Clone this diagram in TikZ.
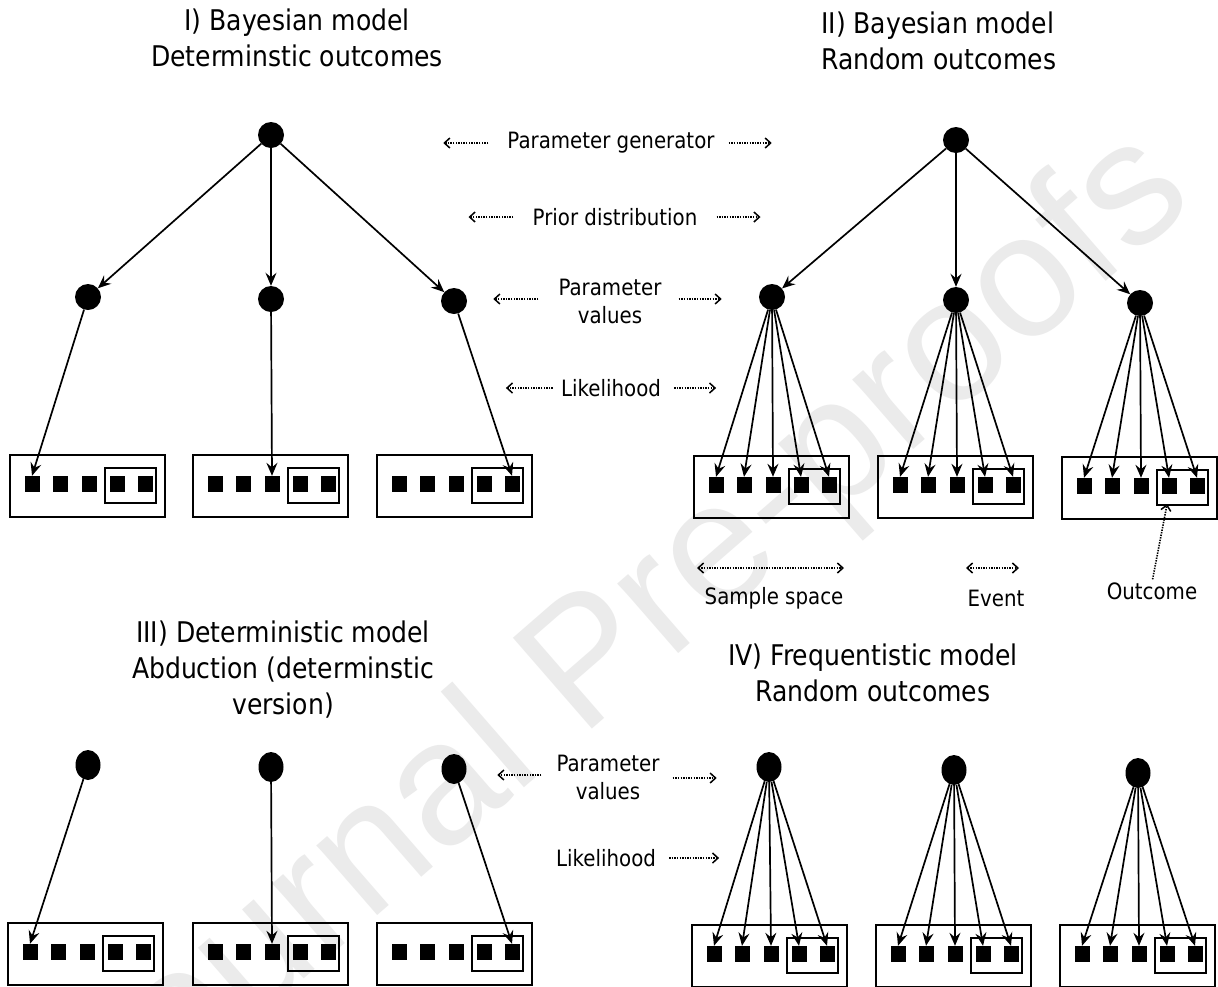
\documentclass[tikz,border=0pt]{standalone}
\usepackage{fontspec}
\newfontfamily\tah[FakeStretch=0.88]{DejaVu Sans}
\newfontfamily\wmfont{Liberation Sans}
\usetikzlibrary{arrows.meta,shapes.geometric,calc}
\newcommand\samplebox[3]{%
  \node[outerbox] (#1) at (#2+77.5,#3+31) {};
  \node[innerbox] (#1e) at (#2+120.5,#3+30.5) {};
  \foreach \k/\dx in {1/22,2/50,3/79,4/107,5/135}{\node[sq] (#1s\k) at (#2+\dx,#3+29) {};}
}
\begin{document}
\begin{tikzpicture}[x=1pt,y=-1pt,
  pn/.style={circle,fill=black,inner sep=0pt,minimum size=26pt},
  pe/.style={ellipse,fill=black,inner sep=0pt,minimum width=25pt,minimum height=30pt},
  outerbox/.style={draw,line width=2pt,minimum width=155pt,minimum height=62pt,inner sep=0pt},
  innerbox/.style={draw,line width=1.8pt,minimum width=51pt,minimum height=35pt,inner sep=0pt},
  sq/.style={fill=black,minimum width=15pt,minimum height=16pt,inner sep=0pt},
  arr/.style={line width=1.7pt,-{Stealth[length=13pt,width=11pt,inset=4.5pt]}},
  dotarr/.style={line width=1.6pt,dash pattern=on 1.4pt off 1.2pt,-{Straight Barb[length=5.5pt,width=10pt,line width=1.5pt]}},
  dotboth/.style={line width=1.6pt,dash pattern=on 1.4pt off 1.2pt,{Straight Barb[length=5.5pt,width=10pt,line width=1.5pt]}-{Straight Barb[length=5.5pt,width=10pt,line width=1.5pt]}},
  lab/.style={font=\tah\fontsize{22.5}{28}\selectfont,align=center,inner sep=0pt},
  ttl/.style={font=\tah\fontsize{28.5}{36}\selectfont,align=center,inner sep=0pt},
  wm/.style={font=\wmfont\fontsize{175}{175}\selectfont,text=black!8,rotate=41,inner sep=0pt}
]
\useasboundingbox (0,0) rectangle (1218,986);
\fill[white] (0,0) rectangle (1218,986);
\node[wm] (wm) at (625,640) {Journal Pre-proofs};

% titles
\node[ttl] (t1) at (297,38) {I) Bayesian model\\Determinstic outcomes};
\node[ttl,align=left,anchor=west] (t2) at (821,41) {II) Bayesian model\\Random outcomes};
\node[ttl] (t3) at (283,670) {III) Deterministic model\\Abduction (determinstic\\version)};
\node[ttl] (t4) at (873,673) {IV) Frequentistic model\\Random outcomes};

% panel I
\node[pn] (a0) at (271,135) {};
\node[pn] (a1) at (88,297) {};
\node[pn] (a2) at (271,299) {};
\node[pn] (a3) at (454,301) {};
\samplebox{ba1}{10}{455}
\samplebox{ba2}{193}{455}
\samplebox{ba3}{377}{455}
\foreach \m in {1,2,3}{\draw[arr] (a0) -- (a\m);}
\draw[arr] (a1) -- (ba1s1.north);
\draw[arr] (a2) -- (ba2s3.north);
\draw[arr] (a3) -- (ba3s5.north);

% panel II
\node[pn] (c0) at (956,140) {};
\node[pn] (c1) at (772,297) {};
\node[pn] (c2) at (956,300) {};
\node[pn] (c3) at (1140,303) {};
\samplebox{bc1}{694}{456}
\samplebox{bc2}{878}{456}
\samplebox{bc3}{1062}{457}
\foreach \m in {1,2,3}{\draw[arr] (c0) -- (c\m);
  \foreach \k in {1,...,5}{\draw[arr] (c\m) -- (bc\m s\k.north);}}

% panel III
\node[pe] (d1) at (88,765) {};
\node[pe] (d2) at (271,767) {};
\node[pe] (d3) at (454,769) {};
\samplebox{bd1}{8}{923}
\samplebox{bd2}{193}{923}
\samplebox{bd3}{377}{923}
\draw[arr] (d1) -- (bd1s1.north);
\draw[arr] (d2) -- (bd2s3.north);
\draw[arr] (d3) -- (bd3s5.north);

% panel IV
\node[pe] (e1) at (769,767) {};
\node[pe] (e2) at (954,770) {};
\node[pe] (e3) at (1138,773) {};
\samplebox{be1}{692}{925}
\samplebox{be2}{876}{925}
\samplebox{be3}{1060}{925}
\foreach \m in {1,2,3}{\foreach \k in {1,...,5}{\draw[arr] (e\m) -- (be\m s\k.north);}}

% middle labels
\node[lab] (pg) at (611,143) {Parameter generator};
\draw[dotarr] ([xshift=-19pt]pg.west) -- ++(-45,0);
\draw[dotarr] ([xshift=14pt]pg.east) -- ++(43,0);
\node[lab] (pd) at (615,217) {Prior distribution};
\draw[dotarr] ([xshift=-19pt]pd.west) -- ++(-45,0);
\draw[dotarr] ([xshift=19pt]pd.east) -- ++(44,0);
\node[lab] (pv) at (610,301) {Parameter\\values};
\draw[dotarr] ([xshift=-20pt,yshift=2pt]pv.west) -- ++(-45,0);
\draw[dotarr] ([xshift=17pt,yshift=2pt]pv.east) -- ++(43,0);
\node[lab] (lk) at (611,388) {Likelihood};
\draw[dotarr] ([xshift=-8pt]lk.west) -- ++(-47,0);
\draw[dotarr] ([xshift=13pt]lk.east) -- ++(42,0);
\node[lab] (pv2) at (608,777) {Parameter\\values};
\draw[dotarr] ([xshift=-15pt,yshift=2pt]pv2.west) -- ++(-44,0);
\draw[dotarr] ([xshift=13pt,yshift=-1pt]pv2.east) -- ++(44,0);
\node[lab] (lk2) at (606,858) {Likelihood};
\draw[dotarr] ([xshift=13pt]lk2.east) -- ++(50,0);

% sample space / event / outcome
\node[lab] (ss) at (774,598) {Sample space};
\coordinate (ssl) at (697,568);
\coordinate (ssr) at (844,568);
\draw[dotboth] (ssl) -- (ssr);
\node[lab] (ev) at (996,598) {Event};
\coordinate (evl) at (966,568);
\coordinate (evr) at (1019,568);
\draw[dotboth] (evl) -- (evr);
\node[lab] (oc) at (1152,591) {Outcome};
\draw[dotarr,shorten >=10pt,shorten <=3pt] (oc.north) -- (bc3s4.south);
\end{tikzpicture}
\end{document}
